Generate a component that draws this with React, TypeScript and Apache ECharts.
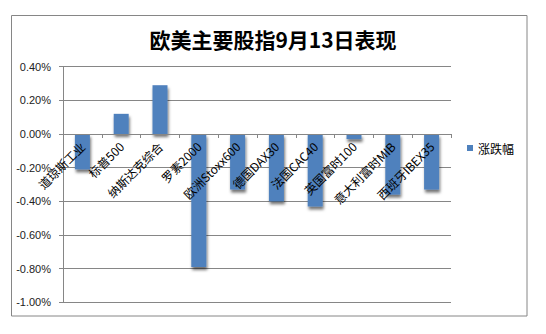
import React, { useEffect, useRef } from "react";
import * as echarts from "echarts";

const categories = [
  "道琼斯工业",
  "标普500",
  "纳斯达克综合",
  "罗素2000",
  "欧洲Stoxx600",
  "德国DAX30",
  "法国CAC40",
  "英国富时100",
  "意大利富时MIB",
  "西班牙IBEX35",
];
const changePct = [-0.21, 0.12, 0.29, -0.79, -0.33, -0.4, -0.43, -0.03, -0.36, -0.33];
const seriesName = "涨跌幅";
const titleText = "欧美主要股指9月13日表现";
const yMin = -1.0;
const yMax = 0.4;
const yStep = 0.2;

const GRID_TOP = 66.7;
const GRID_BOTTOM = 31.7;
const H = 334;

export default function App() {
  const ref = useRef<HTMLDivElement>(null);
  useEffect(() => {
    if (!ref.current) return;
    const chart = echarts.init(ref.current, undefined, { renderer: "svg" });
    const cjk = '"Noto Sans CJK SC", sans-serif';
    const plotH = H - GRID_TOP - GRID_BOTTOM;
    const zeroFromBottom = (plotH * (0 - yMin)) / (yMax - yMin);
    chart.setOption({
      animation: false,
      backgroundColor: "#ffffff",
      title: {
        text: titleText,
        left: "center",
        top: 23,
        textStyle: { fontFamily: cjk, fontSize: 21, fontWeight: "bold", color: "#000" },
      },
      legend: {
        data: [seriesName],
        left: 462,
        top: 137,
        icon: "rect",
        itemWidth: 6,
        itemHeight: 6,
        textStyle: { fontFamily: cjk, fontSize: 12, color: "#000" },
      },
      graphic: [
        {
          type: "rect",
          shape: { x: 11.5, y: 15.5, width: 515.5, height: 300.5 },
          style: { fill: "none", stroke: "#868686", lineWidth: 1 },
          silent: true,
        },
      ],
      grid: { left: 63, right: 95, top: GRID_TOP, bottom: GRID_BOTTOM },
      xAxis: {
        type: "category",
        data: categories,
        position: "bottom",
        offset: -zeroFromBottom,
        z: 10,
        axisLine: { onZero: false, lineStyle: { color: "#868686", width: 1 } },
        axisTick: { show: true, inside: false, length: 4, lineStyle: { color: "#868686" } },
        axisLabel: {
          rotate: 45,
          interval: 0,
          margin: 10,
          fontFamily: cjk,
          fontSize: 12,
          color: "#000",
        },
        splitLine: { show: false },
      },
      yAxis: {
        type: "value",
        min: yMin,
        max: yMax,
        interval: yStep,
        axisLine: { show: true, lineStyle: { color: "#868686", width: 1 } },
        axisTick: { show: true, inside: false, length: 4, lineStyle: { color: "#868686" } },
        axisLabel: {
          margin: 12,
          fontFamily: '"Liberation Sans", Arial, sans-serif',
          fontSize: 11,
          color: "#222",
          formatter: (v: number) => v.toFixed(2) + "%",
        },
        splitLine: { show: true, lineStyle: { color: "#868686", width: 1 } },
      },
      series: [
        {
          name: seriesName,
          type: "bar",
          data: changePct,
          barWidth: 15,
          z: 2,
          itemStyle: {
            color: "#4F81BD",
            shadowColor: "rgba(0,0,0,0.55)",
            shadowBlur: 3,
            shadowOffsetX: 1,
            shadowOffsetY: 3,
          },
        },
      ],
    });
    return () => chart.dispose();
  }, []);
  return (
    <div
      ref={ref}
      style={{ position: "absolute", left: 0, top: 0, width: 546, height: 334, background: "#fff" }}
    />
  );
}
